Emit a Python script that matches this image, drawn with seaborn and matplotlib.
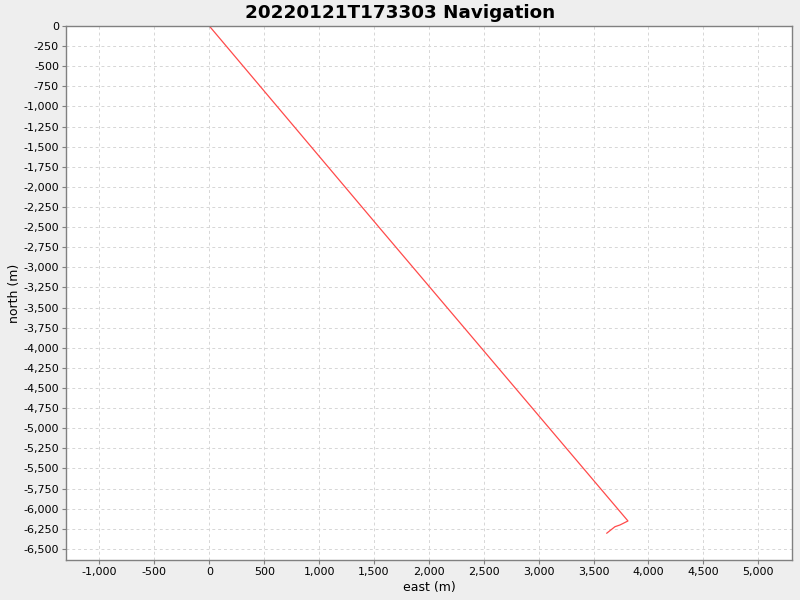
import matplotlib
matplotlib.use("Agg")
import matplotlib.pyplot as plt
import matplotlib.ticker as mticker
import numpy as np
import pandas as pd
import seaborn as sns

# ----TRACK DATA----
east = [0, 1573, 3813, 3740, 3695, 3619]
north = [0, -2546, -6153, -6203, -6224, -6306]

df = pd.DataFrame({"east": east, "north": north})

sns.set_theme(style="white")
plt.rcParams["font.family"] = ["DejaVu Sans"]
plt.rcParams["text.color"] = "black"
plt.rcParams["axes.labelcolor"] = "black"
plt.rcParams["xtick.color"] = "black"
plt.rcParams["ytick.color"] = "black"

fig = plt.figure(figsize=(8, 6), dpi=100, facecolor="#eeeeee")
ax = fig.add_axes([0.0825, 0.0667, 0.9075, 0.89])
ax.set_facecolor("white")

sns.lineplot(data=df, x="east", y="north", sort=False, estimator=None,
             color="#ff4a4a", linewidth=0.9, ax=ax)

ax.set_xlim(-1305, 5307)
ax.set_ylim(-6638, 0)
ax.xaxis.set_major_locator(mticker.MultipleLocator(500))
ax.yaxis.set_major_locator(mticker.MultipleLocator(250))
fmt = mticker.FuncFormatter(lambda v, p: "0" if v == 0 else f"{v:,.0f}")
ax.xaxis.set_major_formatter(fmt)
ax.yaxis.set_major_formatter(fmt)

ax.grid(True, linestyle=(0, (3, 3)), color="#d6d6d6", linewidth=0.7)
for s in ax.spines.values():
    s.set_color("#808080")
    s.set_linewidth(1)
ax.tick_params(axis="both", which="major", length=3, width=0.8, color="#808080",
               labelcolor="black", labelsize=8, pad=2, direction="out",
               bottom=True, left=True)

ax.set_xlabel("east (m)", fontsize=9, labelpad=3)
ax.set_ylabel("north (m)", fontsize=9, labelpad=2)
fig.suptitle("20220121T173303 Navigation", fontsize=13.2, fontweight="bold",
             y=0.993, color="black")

fig.savefig("out.png", dpi=100, facecolor=fig.get_facecolor())
